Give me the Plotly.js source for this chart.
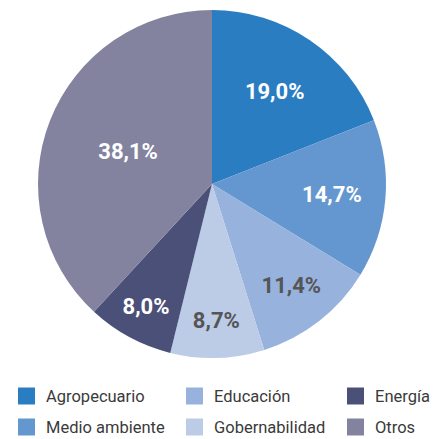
<!DOCTYPE html>
<html><head><meta charset="utf-8">
<script src="https://cdn.plot.ly/plotly-3.0.1.min.js"></script>
<style>html,body{margin:0;padding:0;background:#fff}#chart{width:433px;height:439px}</style>
</head><body><div id="chart"></div>
<script>
// Data (slice order, clockwise from 12 o'clock)
const categories = ["Agropecuario","Medio ambiente","Educación","Gobernabilidad","Energía","Otros"];
const shares = [19.0, 14.7, 11.4, 8.7, 8.0, 38.1];
const colors = ["#2a7dc0","#6497cf","#97b3dd","#bccbe6","#4a5078","#83839f"];
const labelColors = ["#ffffff","#ffffff","#555555","#555555","#ffffff","#ffffff"];
// Legend order (row-wise, 3 columns)
const legendOrder = ["Agropecuario","Educación","Energía","Medio ambiente","Gobernabilidad","Otros"];

const W = 433, H = 439;
const fmt = v => v.toFixed(1).replace('.', ',') + '%';

const pie = {
  type: 'pie',
  labels: categories,
  values: shares,
  text: shares.map(fmt),
  textinfo: 'text',
  textposition: 'inside',
  insidetextorientation: 'horizontal',
  sort: false,
  direction: 'clockwise',
  rotation: 0,
  marker: {colors: colors, line: {width: 0}},
  textfont: {family: 'Roboto, sans-serif', size: 22, color: labelColors, weight: 700},
  domain: {x: [38/W, 386/W], y: [1 - 358/H, 1 - 10/H]},
  showlegend: false,
  hoverinfo: 'label+text'
};

const colX = [18, 186, 347];
const rowY = [396, 427];
const sq = 17;
const shapes = [], annotations = [];
legendOrder.forEach((name, i) => {
  const c = i % 3, r = Math.floor(i / 3);
  const col = colors[categories.indexOf(name)];
  const x0 = colX[c], y0 = rowY[r] - sq / 2;
  shapes.push({type: 'rect', xref: 'paper', yref: 'paper',
    x0: x0 / W, x1: (x0 + sq) / W, y0: 1 - (y0 + sq) / H, y1: 1 - y0 / H,
    fillcolor: col, line: {width: 0}});
  annotations.push({xref: 'paper', yref: 'paper', x: (x0 + 26) / W, y: 1 - rowY[r] / H,
    xanchor: 'left', yanchor: 'middle', showarrow: false, text: name,
    font: {family: 'Roboto, sans-serif', size: 16.5, color: '#3a3a3a'}});
});

Plotly.newPlot('chart', [pie], {
  width: W, height: H,
  margin: {l: 0, r: 0, t: 0, b: 0},
  paper_bgcolor: '#ffffff',
  showlegend: false,
  shapes: shapes,
  annotations: annotations
}, {displayModeBar: false, staticPlot: true});
</script></body></html>
